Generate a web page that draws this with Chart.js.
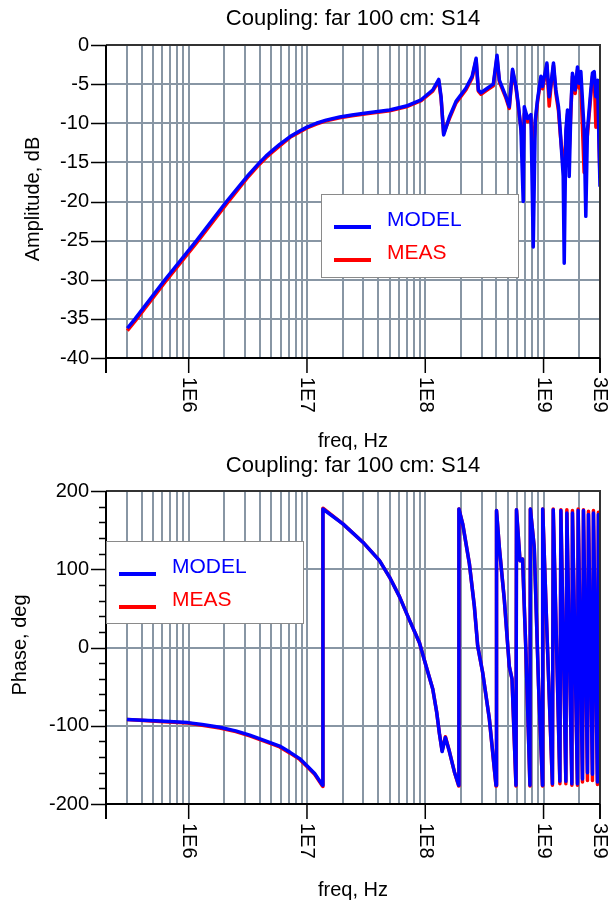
<!DOCTYPE html>
<html>
<head>
<meta charset="utf-8">
<script src="https://cdn.jsdelivr.net/npm/chart.js@4.4.1/dist/chart.umd.min.js"></script>
<style>
  html, body { margin: 0; padding: 0; background: #fff; }
  canvas { position: absolute; left: 0; }
</style>
</head>
<body>
<canvas id="amp" width="611" height="450" style="top:0"></canvas>
<canvas id="phase" width="611" height="450" style="top:450px"></canvas>
<script>
// Titles
const chartTitle = 'Coupling: far 100 cm: S14';
const xTitle = 'freq, Hz';
const ampTitle = 'Amplitude, dB';
const phaseTitle = 'Phase, deg';
const seriesNames = ['MODEL', 'MEAS'];

// Axis ticks
const xMin = 2e5, xMax = 3e9;
const xTickValues = [1e6, 1e7, 1e8, 1e9, 3e9];
const xTickLabels = ['1E6', '1E7', '1E8', '1E9', '3E9'];
const gridFreqs = [2e5, 3e5, 4e5, 5e5, 6e5, 7e5, 8e5, 9e5,
  1e6, 2e6, 3e6, 4e6, 5e6, 6e6, 7e6, 8e6, 9e6,
  1e7, 2e7, 3e7, 4e7, 5e7, 6e7, 7e7, 8e7, 9e7,
  1e8, 2e8, 3e8, 4e8, 5e8, 6e8, 7e8, 8e8, 9e8,
  1e9, 2e9, 3e9];
const ampTicks = [0, -5, -10, -15, -20, -25, -30, -35, -40];
const phaseTicks = [200, 100, 0, -100, -200];
const phaseMinorTicks = [180, 160, 140, 120, 80, 60, 40, 20, -20, -40, -60, -80,
  -120, -140, -160, -180];

// Amplitude, dB
const ampFreq = [3.03e5, 3.52e5, 6.3e5, 1.165e6, 2.09e6, 3.2e6, 3.99e6, 4.5e6, 5.0e6, 5.88e6,
  7.2e6, 8.67e6, 1.0e7, 1.2e7, 1.45e7, 1.89e7, 2.4e7, 3.17e7, 4.99e7, 6.9e7,
  9.23e7, 1.156e8, 1.30e8, 1.36e8, 1.43e8,
  1.60e8, 1.82e8, 2.21e8, 2.49e8, 2.69e8, 2.81e8, 2.96e8, 3.37e8, 3.76e8, 4.04e8,
  4.23e8, 4.81e8, 5.13e8, 5.47e8, 5.85e8, 6.15e8, 6.44e8, 6.73e8, 6.87e8, 7.33e8,
  7.82e8, 8.18e8, 8.51e8, 8.89e8, 9.5e8, 9.8e8, 1.067e9, 1.116e9, 1.153e9, 1.213e9,
  1.271e9, 1.337e9, 1.383e9, 1.466e9, 1.495e9, 1.545e9, 1.594e9, 1.648e9, 1.702e9, 1.755e9,
  1.849e9, 1.935e9, 2.0e9, 2.067e9, 2.203e9, 2.276e9, 2.349e9, 2.51e9, 2.59e9, 2.68e9,
  2.77e9, 2.86e9, 3.0e9];
const ampModel = [-36.2, -35.0, -30.0, -25.0, -20.0, -16.6, -15.0, -14.2, -13.6, -12.7,
  -11.7, -11.0, -10.5, -10.0, -9.6, -9.2, -8.95, -8.7, -8.3, -7.8,
  -7.0, -5.75, -4.4, -6.6, -11.5,
  -9.2, -7.2, -5.5, -4.0, -1.7, -5.75, -6.1, -5.5, -5.0, -1.3,
  -4.5, -6.6, -7.9, -3.1, -5.3, -7.9, -10.9, -20.0, -7.9, -9.4,
  -8.9, -25.8, -9.6, -7.0, -4.0, -5.3, -2.3, -6.6, -5.1, -2.3,
  -5.75, -7.9, -10.9, -16.8, -27.9, -10.9, -8.3, -16.8, -8.1, -3.6,
  -5.75, -2.8, -4.9, -3.4, -10.9, -21.9, -10.9, -5.75, -3.6, -3.4,
  -6.6, -4.5, -18.1];
const ampMeas = [-36.5, -35.3, -30.3, -25.3, -20.3, -16.8, -15.2, -14.4, -13.8, -12.9,
  -11.8, -11.1, -10.6, -10.1, -9.7, -9.3, -9.05, -8.8, -8.4, -7.9,
  -7.1, -5.9, -4.6, -6.8, -11.3,
  -9.4, -7.4, -5.7, -4.2, -1.9, -5.9, -6.3, -5.7, -5.2, -1.6,
  -4.7, -6.8, -8.1, -3.3, -5.5, -8.2, -10.6, -13.5, -8.8, -9.8,
  -9.3, -14.0, -9.9, -7.3, -4.3, -5.6, -2.6, -7.8, -5.4, -2.6,
  -6.2, -8.4, -11.3, -15.5, -16.0, -11.5, -8.8, -13.5, -8.5, -4.0,
  -6.2, -3.2, -5.5, -5.0, -16.3, -13.0, -11.5, -6.4, -4.0, -3.8,
  -10.5, -5.2, -17.0];

// Phase, deg
const phaseFreq = [3.008e5, 5.71e5, 9.84e5, 1.3e6, 1.832e6, 2.5e6, 3.283e6, 4.4e6, 5.88e6, 7.2e6,
  8.677e6, 1.0e7, 1.161e7, 1.356e7, 1.364e7,
  2.012e7, 2.968e7, 4.105e7, 4.985e7, 6.054e7, 7.354e7, 8.931e7, 1.017e8, 1.157e8, 1.25e8,
  1.317e8, 1.388e8, 1.48e8, 1.6e8, 1.763e8, 1.917e8, 1.925e8, 2.072e8, 2.36e8, 2.602e8,
  2.774e8, 3.056e8, 3.48e8, 3.964e8, 4.003e8, 4.227e8, 4.659e8, 5.133e8, 5.41e8, 5.847e8,
  5.904e8, 6.32e8, 6.647e8, 7.101e8, 7.675e8, 7.736e8, 8.344e8, 9.074e8, 9.794e8, 9.835e8,
  1.078e9, 1.188e9, 1.207e9, 1.374e9, 1.401e9, 1.544e9, 1.574e9, 1.735e9, 1.755e9, 1.934e9,
  1.961e9, 2.133e9, 2.174e9, 2.35e9, 2.396e9, 2.59e9, 2.641e9, 2.854e9, 2.91e9, 3.0e9];
const phaseModel = [-92, -94, -96, -98.5, -102, -106.5, -112, -119, -126, -134,
  -142, -151, -161, -176, 177,
  158, 134.6, 111, 90, 65, 35, 6, -24, -53, -83,
  -110, -133, -115, -133, -159, -176, 177, 158, 107, 52,
  2, -32, -91, -176, 175, 128, 61, -24, -40, -176,
  176, 111, 113, -7, -176, 177, 128, -49, -176, 177,
  2, -174, 176, -171, 175, -171, 172, -174, 172, -174,
  175, -168, 175, -160, 170, -162, 172, -172, 170, 100];
const phaseMeas = [-92, -94.5, -96.5, -99.5, -103, -107.5, -113, -120, -127, -135,
  -143, -152, -162, -177.5, 178,
  158, 134.6, 111, 90, 65, 35, 6, -24, -53, -83,
  -110, -132, -114, -133, -159, -177, 177, 158, 107, 52,
  2, -32, -91, -177, 175, 128, 61, -24, -40, -177,
  176, 111, 113, -7, -177, 177, 128, -49, -177, 177,
  2, -176, 177, -174, 176, -174, 176, -176, 175, -176,
  177, -172, 176, -170, 174, -170, 175, -175, 173, 80];

const xyPoints = (xs, ys) => xs.map((x, i) => ({ x: x, y: ys[i] }));

const FONT = 'Liberation Sans, Arial, sans-serif';
const GRID = '#8896a4';

// draws frame, tick marks, x tick labels, titles and the boxed legend
const decorPlugin = {
  id: 'decor',
  afterDraw(chart) {
    const o = chart.options.plugins.decor;
    const ctx = chart.ctx;
    const a = chart.chartArea;
    const xs = chart.scales.x, ys = chart.scales.y;
    ctx.save();

    // top + right border
    ctx.strokeStyle = '#333';
    ctx.lineWidth = 2;
    ctx.beginPath();
    ctx.moveTo(a.left, a.top);
    ctx.lineTo(a.right, a.top);
    ctx.lineTo(a.right, a.bottom + 15);
    ctx.stroke();

    // axes
    ctx.strokeStyle = '#000';
    ctx.beginPath();
    ctx.moveTo(a.left, a.top);
    ctx.lineTo(a.left, a.bottom + 15);
    ctx.moveTo(a.left, a.bottom);
    ctx.lineTo(a.right, a.bottom);
    ctx.stroke();

    // y tick marks
    ctx.lineWidth = 1.5;
    ctx.beginPath();
    o.yMajor.forEach(v => {
      const py = Math.round(ys.getPixelForValue(v)) + 0.5;
      ctx.moveTo(a.left - 15, py);
      ctx.lineTo(a.left, py);
    });
    (o.yMinor || []).forEach(v => {
      const py = Math.round(ys.getPixelForValue(v)) + 0.5;
      ctx.moveTo(a.left - 7, py);
      ctx.lineTo(a.left, py);
    });
    // x tick marks
    xTickValues.forEach(v => {
      const px = xs.getPixelForValue(v);
      ctx.moveTo(px, a.bottom);
      ctx.lineTo(px, a.bottom + 15);
    });
    ctx.stroke();

    // x tick labels, turned clockwise
    ctx.fillStyle = '#000';
    ctx.font = '20px ' + FONT;
    ctx.textAlign = 'left';
    ctx.textBaseline = 'middle';
    xTickValues.forEach((v, i) => {
      const px = xs.getPixelForValue(v);
      ctx.save();
      ctx.translate(px, a.bottom + 19);
      ctx.rotate(Math.PI / 2);
      ctx.fillText(xTickLabels[i], 0, 0);
      ctx.restore();
    });

    // titles
    const cx = (a.left + a.right) / 2;
    ctx.textAlign = 'center';
    ctx.fillText(xTitle, cx, o.xTitleY);
    ctx.font = '22px ' + FONT;
    ctx.fillText(chartTitle, cx, o.titleY);
    ctx.font = '20px ' + FONT;
    ctx.save();
    ctx.translate(o.yTitleX, o.yTitleY);
    ctx.rotate(-Math.PI / 2);
    ctx.fillText(o.yTitle, 0, 0);
    ctx.restore();

    // legend box
    const L = o.legend;
    ctx.fillStyle = '#fff';
    ctx.fillRect(L.x, L.y, L.w, L.h);
    ctx.strokeStyle = '#8a8a8a';
    ctx.lineWidth = 1;
    ctx.strokeRect(L.x + 0.5, L.y + 0.5, L.w, L.h);
    ctx.font = '21px ' + FONT;
    ctx.textAlign = 'left';
    chart.data.datasets.forEach((ds, i) => {
      const ly = L.y + 33 + i * 33;
      ctx.strokeStyle = ds.borderColor;
      ctx.lineWidth = 4;
      ctx.beginPath();
      ctx.moveTo(L.x + 13, ly);
      ctx.lineTo(L.x + 50, ly);
      ctx.stroke();
      ctx.fillStyle = ds.borderColor;
      ctx.fillText(ds.label, L.x + 66, ly - 7);
    });
    ctx.restore();
  }
};

function makeChart(id, cfg) {
  return new Chart(document.getElementById(id), {
    type: 'line',
    data: {
      datasets: [
        { label: seriesNames[0], data: cfg.model, borderColor: '#0000ff', borderWidth: 3.5 },
        { label: seriesNames[1], data: cfg.meas, borderColor: '#ff0000', borderWidth: 3.5 }
      ]
    },
    options: {
      responsive: false,
      animation: false,
      elements: { point: { radius: 0 }, line: { tension: 0, borderJoinStyle: 'round' } },
      layout: { padding: { left: 0, right: 11, top: cfg.top, bottom: cfg.bottom } },
      plugins: {
        legend: { display: false },
        tooltip: { enabled: false },
        decor: cfg.decor
      },
      scales: {
        x: {
          type: 'logarithmic',
          min: xMin,
          max: xMax,
          afterBuildTicks: s => { s.ticks = gridFreqs.map(v => ({ value: v })); },
          afterFit: s => { s.height = 0; },
          ticks: { display: false },
          border: { display: false },
          grid: { color: GRID, lineWidth: 2, drawTicks: false }
        },
        y: {
          type: 'linear',
          min: cfg.yMin,
          max: cfg.yMax,
          afterBuildTicks: s => { s.ticks = cfg.yTicks.map(v => ({ value: v })); },
          afterFit: s => { s.width = 106; },
          ticks: {
            color: '#000',
            padding: 17,
            font: { family: FONT, size: 20 },
            callback: v => String(v)
          },
          border: { display: false },
          grid: { color: GRID, lineWidth: 2, drawTicks: false }
        }
      }
    },
    plugins: [decorPlugin]
  });
}

makeChart('amp', {
  model: xyPoints(ampFreq, ampModel),
  meas: xyPoints(ampFreq, ampMeas),
  top: 45, bottom: 92,
  yMin: -40, yMax: 0, yTicks: ampTicks,
  decor: {
    yMajor: ampTicks, yMinor: [],
    titleY: 19, xTitleY: 441,
    yTitle: ampTitle, yTitleX: 33, yTitleY: 199,
    legend: { x: 321, y: 194, w: 197, h: 83 }
  }
});

makeChart('phase', {
  model: xyPoints(phaseFreq, phaseModel),
  meas: xyPoints(phaseFreq, phaseMeas),
  top: 41, bottom: 96,
  yMin: -200, yMax: 200, yTicks: phaseTicks,
  decor: {
    yMajor: phaseTicks, yMinor: phaseMinorTicks,
    titleY: 16, xTitleY: 440,
    yTitle: phaseTitle, yTitleX: 20, yTitleY: 195,
    legend: { x: 106, y: 91, w: 197, h: 82 }
  }
});
</script>
</body>
</html>
